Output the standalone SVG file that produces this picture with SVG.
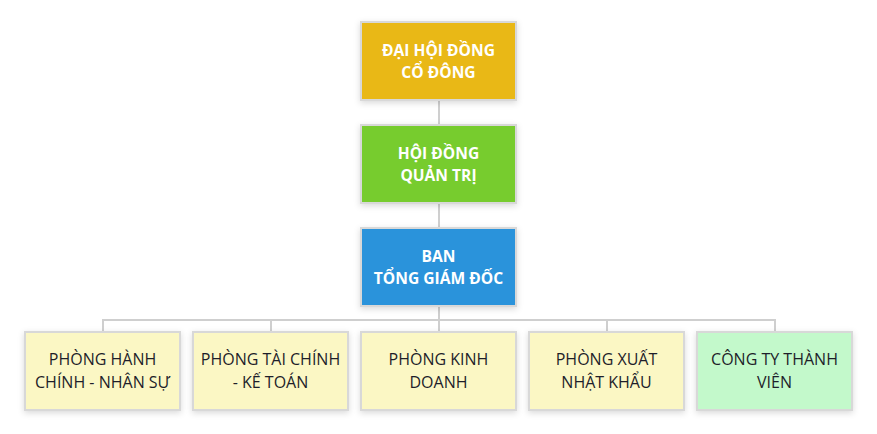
<svg xmlns="http://www.w3.org/2000/svg" width="877" height="434" viewBox="0 0 877 434">
<defs>
<filter id="sh" x="-20%" y="-20%" width="140%" height="150%">
<feDropShadow dx="0" dy="2" stdDeviation="3" flood-color="#000" flood-opacity="0.15"/>
</filter>
</defs>
<style>
.box{stroke:#d8d8d8;stroke-width:2;filter:url(#sh)}
.tw{font-family:"Open Sans","Liberation Sans",sans-serif;font-size:15.6px;font-weight:bold;fill:#fff;text-anchor:middle}
.td{font-family:"Open Sans","Liberation Sans",sans-serif;font-size:16px;fill:#1e1e2a;text-anchor:middle}
.ln{stroke:#cfcfcf;stroke-width:2;fill:none}
</style>
<rect width="877" height="434" fill="#fff"/>
<g id="connectors">
<line class="ln" x1="439" y1="100" x2="439" y2="125"/>
<line class="ln" x1="439" y1="203" x2="439" y2="228"/>
<line class="ln" x1="439" y1="306" x2="439" y2="332"/>
<polyline class="ln" points="103,332 103,320 775,320 775,332"/>
<line class="ln" x1="271" y1="320" x2="271" y2="332"/>
<line class="ln" x1="607" y1="320" x2="607" y2="332"/>
</g>
<g id="dhdcd">
<rect class="box" x="361" y="22" width="155" height="78" fill="#E9B816"/>
<text class="tw" x="438.5" y="56">ĐẠI HỘI ĐỒNG</text>
<text class="tw" x="438.5" y="78">CỔ ĐÔNG</text>
</g>
<g id="hdqt">
<rect class="box" x="361" y="125" width="155" height="78" fill="#77CC2D"/>
<text class="tw" x="438.5" y="159">HỘI ĐỒNG</text>
<text class="tw" x="438.5" y="181">QUẢN TRỊ</text>
</g>
<g id="btgd">
<rect class="box" x="361" y="228" width="155" height="78" fill="#2B93DB"/>
<text class="tw" x="438.5" y="262">BAN</text>
<text class="tw" x="438.5" y="284">TỔNG GIÁM ĐỐC</text>
</g>
<g id="hcns">
<rect class="box" x="25" y="332" width="155" height="78" fill="#FBF7C4"/>
<text class="td" x="102.5" y="365">PHÒNG HÀNH</text>
<text class="td" x="102.5" y="388">CHÍNH - NHÂN SỰ</text>
</g>
<g id="tckt">
<rect class="box" x="193" y="332" width="155" height="78" fill="#FBF7C4"/>
<text class="td" x="270.5" y="365">PHÒNG TÀI CHÍNH</text>
<text class="td" x="270.5" y="388">- KẾ TOÁN</text>
</g>
<g id="kd">
<rect class="box" x="361" y="332" width="155" height="78" fill="#FBF7C4"/>
<text class="td" x="438.5" y="365">PHÒNG KINH</text>
<text class="td" x="438.5" y="388">DOANH</text>
</g>
<g id="xnk">
<rect class="box" x="529" y="332" width="155" height="78" fill="#FBF7C4"/>
<text class="td" x="606.5" y="365">PHÒNG XUẤT</text>
<text class="td" x="606.5" y="388">NHẬT KHẨU</text>
</g>
<g id="cttv">
<rect class="box" x="697" y="332" width="155" height="78" fill="#C3F9CB"/>
<text class="td" x="774.5" y="365">CÔNG TY THÀNH</text>
<text class="td" x="774.5" y="388">VIÊN</text>
</g>
</svg>
